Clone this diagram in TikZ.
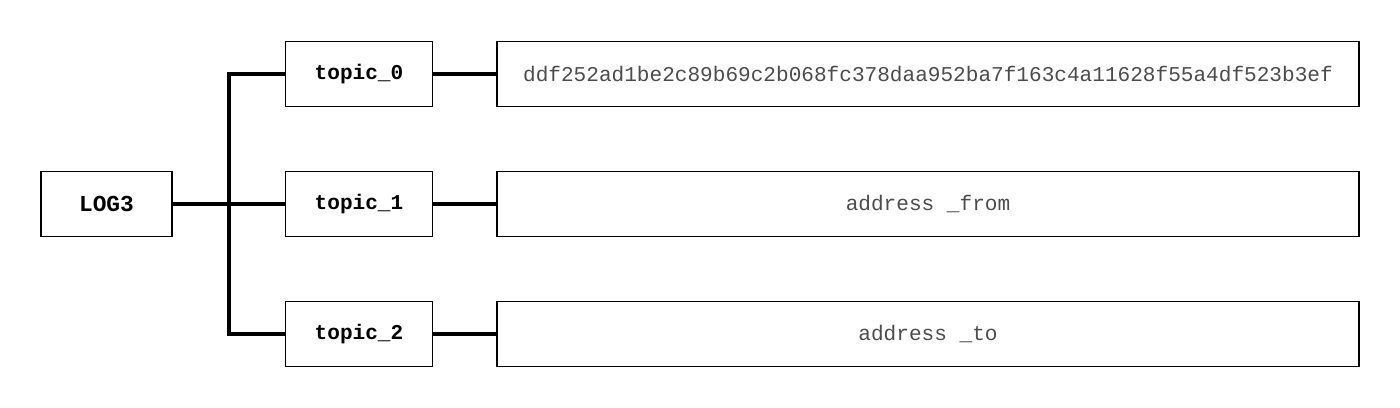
\documentclass[tikz,border=0pt]{standalone}
\usepackage{fontspec}
\setmonofont{Liberation Mono}
\usetikzlibrary{calc}
\usepackage{xcolor}
\tikzset{
  logbox/.style={draw, line width=.9pt, minimum width=2.62cm, minimum height=1.3cm, font=\ttfamily\bfseries\fontsize{13}{15}\selectfont},
  topicbox/.style={draw, line width=.9pt, minimum width=2.94cm, minimum height=1.3cm, font=\ttfamily\bfseries\fontsize{12}{14}\selectfont},
  valuebox/.style={draw, line width=.9pt, minimum width=17.24cm, minimum height=1.3cm, text=black!70, font=\ttfamily\fontsize{12}{14}\selectfont},
  link/.style={line width=2pt}
}
\begin{document}
\begin{tikzpicture}[x=0.02cm, y=-0.02cm]
\useasboundingbox (0,0) rectangle (1400,408);
\node [logbox] (log) at (106.5,204) {LOG3};
\node [topicbox] (t0) at (359,74) {topic\_0};
\node [topicbox] (t1) at (359,204) {topic\_1};
\node [topicbox] (t2) at (359,334) {topic\_2};
\node [valuebox] (v0) at (928,74) {ddf252ad1be2c89b69c2b068fc378daa952ba7f163c4a11628f55a4df523b3ef};
\node [valuebox] (v1) at (928,204) {address \_from};
\node [valuebox] (v2) at (928,334) {address \_to};
\coordinate (jn) at (229,204);
\draw[link] (log) -- (t1);
\draw[link] (t0.west) -| (jn) |- (t2.west);
\draw[link] (t0) -- (v0);
\draw[link] (t1) -- (v1);
\draw[link] (t2) -- (v2);
\end{tikzpicture}
\end{document}
